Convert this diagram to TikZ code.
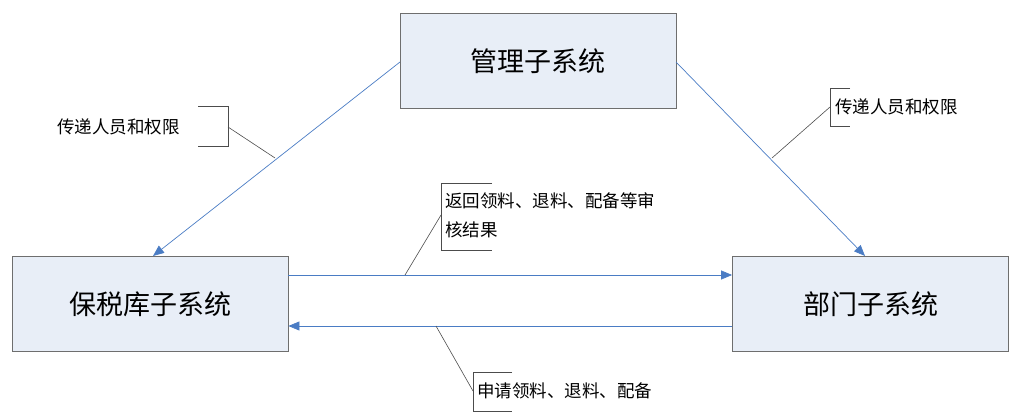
\documentclass[tikz,border=0pt]{standalone}
\usepackage{fontspec}
\newfontfamily\cjk{Noto Sans CJK SC}
\usetikzlibrary{arrows.meta}
\definecolor{boxfill}{HTML}{E8EEF7}
\definecolor{boxline}{HTML}{6E6E6E}
\definecolor{arr}{HTML}{4A7CC4}
\tikzset{
  sys/.style={draw=boxline, fill=boxfill, line width=0.8pt, minimum width=276pt, minimum height=95pt, font=\cjk\fontsize{27}{30}\selectfont, inner sep=0pt},
  flow/.style={draw=arr, line width=0.7pt, -{Triangle[length=11pt,width=9pt]}},
  lab/.style={font=\cjk\fontsize{17.5}{29}\selectfont, inner sep=0pt, anchor=west, align=left},
  lead/.style={draw=black!70, line width=0.6pt}
}
\begin{document}
\begin{tikzpicture}[x=1pt,y=-1pt]
\useasboundingbox (0,0) rectangle (1024,419);
\node[sys] (m) at (538,61) {管理子系统};
\node[sys] (b) at (150,304) {保税库子系统};
\node[sys] (d) at (870.5,304) {部门子系统};
\coordinate (ms) at (400,62);
\coordinate (me) at (676,62);
\coordinate (bt) at (153,256);
\coordinate (dt) at (865,256);
\draw[flow] (ms) -- (bt);
\draw[flow] (me) -- (dt);
\draw[flow] (b.east |- 0,275) coordinate (h1) -- (d.west |- 0,275);
\draw[flow] (d.west |- 0,326) coordinate (h2) -- (b.east |- 0,326);
% left callout
\node[lab] (l1) at (57,127) {传递人员和权限};
\draw[lead] (198,106) -- (228,106) -- (228,146) -- (198,146);
\coordinate (l1a) at (228,127);
\coordinate (l1b) at (275,158);
\draw[lead] (l1a) -- (l1b);
% right callout
\node[lab] (l2) at (835,107) {传递人员和权限};
\draw[lead] (850,88) -- (830,88) -- (830,126) -- (850,126);
\coordinate (l2a) at (830,107);
\coordinate (l2b) at (772,158);
\draw[lead] (l2a) -- (l2b);
% middle callout
\node[lab] (l3) at (445,215) {返回领料、退料、配备等审\\核结果};
\draw[lead] (492,183) -- (441,183) -- (441,250) -- (492,250);
\coordinate (l3a) at (441,215);
\coordinate (l3b) at (405,275);
\draw[lead] (l3a) -- (l3b);
% bottom callout
\node[lab] (l4) at (477,391) {申请领料、退料、配备};
\draw[lead] (512,372) -- (473,372) -- (473,411) -- (512,411);
\coordinate (l4a) at (473,391);
\coordinate (l4b) at (436,326);
\draw[lead] (l4a) -- (l4b);
\end{tikzpicture}
\end{document}
